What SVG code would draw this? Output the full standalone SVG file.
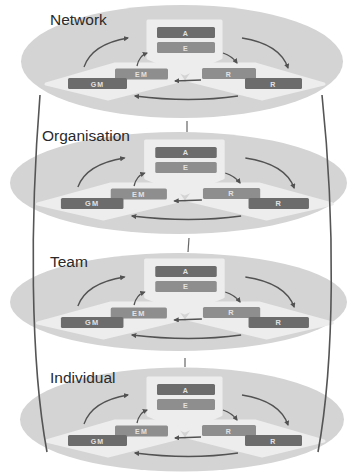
<svg xmlns="http://www.w3.org/2000/svg" width="348" height="472" viewBox="0 0 348 472">
<defs>
<style>
.ell{fill:#d4d4d4}
.pan{fill:#ededed;stroke:#ededed;stroke-width:3;stroke-linejoin:round}
.dk{fill:#6c6c6c}
.md{fill:#8e8e8e}
.bt{font-family:"Liberation Sans",Arial,sans-serif;font-size:7px;font-weight:bold;fill:#e2e2e2;text-anchor:middle;letter-spacing:1.2px}
.lbl{font-family:"Liberation Sans",Arial,sans-serif;font-size:15.5px;fill:#2a2a2a}
.arr{fill:none;stroke:#525252;stroke-width:1.3;marker-end:url(#ah)}
.side{fill:none;stroke:#555;stroke-width:1.6}
.link{fill:none;stroke:#666;stroke-width:1.2}
</style>
<marker id="ah" viewBox="0 0 10 10" refX="8" refY="5" markerWidth="4" markerHeight="4" orient="auto">
<path d="M0,0 L10,5 L0,10 Z" fill="#525252"/>
</marker>
<g id="inner">
<path class="pan" d="M46,84 L115,64 L172,64 L183,80 L108,99 Z"/>
<path class="pan" d="M324,84 L255,64 L198,64 L187,80 L262,99 Z"/>
<path class="pan" d="M148,21 L221,21 L221,58 L185,74 L148,58 Z"/>
<rect class="dk" x="157" y="27" width="58" height="11" rx="1.5"/>
<text class="bt" x="186" y="35.5">A</text>
<rect class="md" x="157" y="42" width="58" height="11" rx="1.5"/>
<text class="bt" x="186" y="50.5">E</text>
<rect class="md" x="115" y="68.5" width="53" height="11" rx="1.5"/>
<text class="bt" x="141.5" y="77">EM</text>
<rect class="dk" x="68" y="78" width="59" height="11" rx="1.5"/>
<text class="bt" x="97.5" y="86.5">GM</text>
<rect class="md" x="202" y="68" width="54" height="11" rx="1.5"/>
<text class="bt" x="229" y="76.5">R</text>
<rect class="dk" x="245" y="78" width="57" height="11" rx="1.5"/>
<text class="bt" x="273.5" y="86.5">R</text>
</g>
<g id="arrows">
<path class="arr" d="M84,67 Q92,44 128,38"/>
<path class="arr" d="M137,66 Q139,56 147,53"/>
<path class="arr" d="M223,53 Q232,56 237,63"/>
<path class="arr" d="M242,38 Q280,44 288,68"/>
<path class="arr" d="M238,96 Q190,103 135,96"/>
<path class="arr" d="M201,80 L175,81"/>
</g>
</defs>

<g id="level-network">
<ellipse class="ell" cx="182" cy="61.5" rx="161" ry="56.5"/>
<text class="lbl" x="50" y="25">Network</text>
<use href="#inner"/>
</g>

<g id="level-organisation">
<ellipse class="ell" cx="178.5" cy="183" rx="168.5" ry="51"/>
<text class="lbl" x="42" y="141">Organisation</text>
<use href="#inner" transform="translate(186,120) scale(1.06,1) translate(-186,0)"/>
</g>

<g id="level-team">
<ellipse class="ell" cx="178.5" cy="302" rx="168.5" ry="49"/>
<text class="lbl" x="50" y="267">Team</text>
<use href="#inner" transform="translate(186,239) scale(1.06,1) translate(-186,0)"/>
</g>

<g id="level-individual">
<ellipse class="ell" cx="182" cy="419.5" rx="162" ry="52"/>
<text class="lbl" x="50" y="383">Individual</text>
<use href="#inner" transform="translate(0,357)"/>
</g>

<g id="connectors">
<use href="#arrows"/>
<use href="#arrows" transform="translate(186,120) scale(1.06,1) translate(-186,0)"/>
<use href="#arrows" transform="translate(186,239) scale(1.06,1) translate(-186,0)"/>
<use href="#arrows" transform="translate(0,357)"/>
<path class="side" d="M40,95 C30,220 30,360 47,452"/>
<path class="side" d="M322,95 C335,220 335,360 318,452"/>
<path class="link" d="M187,121 L187,132"/>
<path class="link" d="M189,238 L188,252"/>
<path class="link" d="M185,358 L185,367"/>
</g>
</svg>
